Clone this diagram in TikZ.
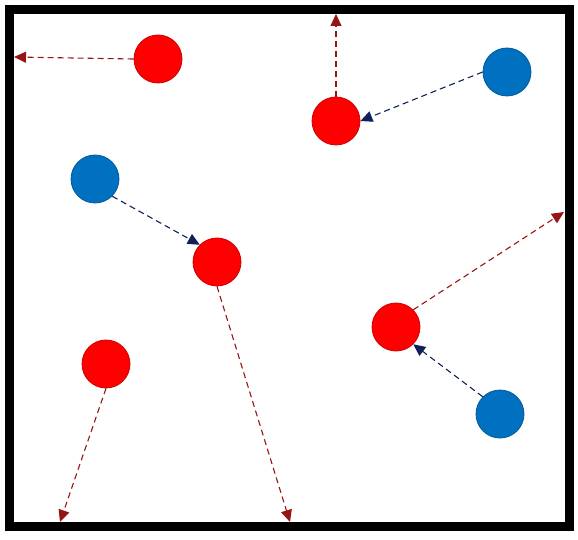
\documentclass[tikz,border=0pt]{standalone}
\usepackage{xcolor}
\usepackage{tikz}
\usetikzlibrary{arrows.meta,
                calc,
                positioning}

\definecolor{ballred}{RGB}{255,0,0}
\definecolor{ballblue}{RGB}{0,112,192}
\definecolor{arrred}{RGB}{150,20,20}
\definecolor{arrblue}{RGB}{16,32,90}

\begin{document}
\begin{tikzpicture}[x=1pt,y=-1pt,
  ball/.style={circle,minimum size=48pt,inner sep=0pt,line width=0.8pt},
  redball/.style={ball,fill=ballred,draw=ballred!80!black},
  blueball/.style={ball,fill=ballblue,draw=ballblue!80!black},
  move/.style={dashed,dash pattern=on 6pt off 4pt,line width=1.1pt,
    -{Triangle[length=12pt,width=11pt]}},
  redmove/.style={move,arrred},
  bluemove/.style={move,arrblue}]
\useasboundingbox (0,0) rectangle (578,540);
\draw[line width=9pt] (9.5,9.5) rectangle (569,526);

% balls
\foreach \n/\x/\y in {r1/158/59,r2/336/121,r3/217/262,r4/396/327,r5/106/364}
  \node[redball] (\n) at (\x,\y) {};
\foreach \n/\x/\y in {b1/507/72,b2/95/179,b3/500/414}
  \node[blueball] (\n) at (\x,\y) {};

% free ends at the walls
\coordinate (e1) at (14,57);
\coordinate (e2) at (336,14);
\coordinate (e3) at (290,522);
\coordinate (e4) at (564,212);
\coordinate (e5) at (60,522);

\foreach \a/\b in {r1.west/e1,r2.north/e2,r3.south/e3,r4.north east/e4,r5.south/e5}
  \draw[redmove] (\a) -- (\b);
\foreach \a/\b in {b1.west/r2.east,b2.south east/r3.north west,b3.north west/r4.south east}
  \draw[bluemove] (\a) -- (\b);
\end{tikzpicture}
\end{document}
